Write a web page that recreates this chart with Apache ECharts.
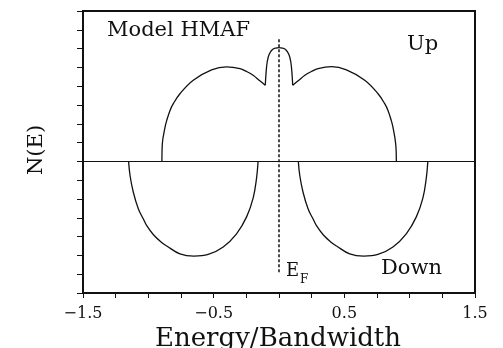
<!DOCTYPE html>
<html>
<head>
<meta charset="utf-8">
<script src="https://cdn.jsdelivr.net/npm/echarts@6/dist/echarts.min.js"></script>
<style>
    html, body { margin: 0; padding: 0; background: #fff; }
    #chart { width: 503px; height: 348px; }
</style>
</head>
<body>
<div id="chart"></div>
<script>
// N(E) curves, [energy, N]
var upLeft = [
    [-0.896, 0], [-0.893, 0.93], [-0.872, 1.82], [-0.859, 2.18], [-0.834, 2.71],
    [-0.809, 3.07], [-0.758, 3.60], [-0.656, 4.32], [-0.516, 4.87],
    [-0.401, 5.03], [-0.299, 4.94], [-0.248, 4.78], [-0.198, 4.58], [-0.152, 4.32], [-0.105, 4.05]
];
var upSpike = [
    [-0.105, 4.05], [-0.098, 4.8], [-0.090, 5.3], [-0.075, 5.7], [-0.050, 5.95],
    [-0.025, 6.03], [0, 6.05], [0.025, 6.03], [0.050, 5.95], [0.075, 5.7],
    [0.090, 5.3], [0.098, 4.8], [0.105, 4.05]
];
var upRight = [
    [0.105, 4.05], [0.152, 4.32], [0.198, 4.58], [0.248, 4.78], [0.299, 4.94],
    [0.401, 5.04], [0.516, 4.87], [0.656, 4.32], [0.758, 3.60],
    [0.809, 3.07], [0.834, 2.71], [0.859, 2.18], [0.872, 1.82], [0.893, 0.93], [0.898, 0]
];
var downLeft = [
    [-1.151, 0], [-1.140, -0.75], [-1.115, -1.64], [-1.076, -2.53], [-1.037, -3.08],
    [-1.012, -3.42], [-0.961, -3.90], [-0.898, -4.31], [-0.859, -4.50], [-0.758, -4.92],
    [-0.651, -5.04], [-0.542, -4.95], [-0.427, -4.55], [-0.325, -3.85], [-0.248, -2.95],
    [-0.198, -1.95], [-0.172, -0.90], [-0.160, 0]
];
var downRight = [
    [0.148, 0], [0.159, -0.75], [0.184, -1.64], [0.223, -2.53], [0.262, -3.08],
    [0.287, -3.42], [0.338, -3.90], [0.401, -4.31], [0.440, -4.50], [0.541, -4.92],
    [0.648, -5.04], [0.757, -4.95], [0.872, -4.55], [0.974, -3.85], [1.051, -2.95],
    [1.101, -1.95], [1.127, -0.90], [1.139, 0]
];
var fermiLine = [[0, 6.5], [0, -6.0]];
var xLabels = [-1.5, -0.5, 0.5, 1.5];

var serif = 'DejaVu Serif';
var ink = '#111';

function curve(data) {
    return {
        type: 'line',
        data: data,
        smooth: 0.4,
        showSymbol: false,
        silent: true,
        lineStyle: { color: ink, width: 1.3 }
    };
}

var chart = echarts.init(document.getElementById('chart'));

var series = [
    curve(upLeft), curve(upSpike), curve(upRight),
    curve(downLeft), curve(downRight),
    {
        type: 'line',
        data: fermiLine,
        showSymbol: false,
        silent: true,
        lineStyle: { color: ink, width: 1.5, type: [3, 2] }
    }
];
// zero line across the whole box
series[0].markLine = {
    silent: true,
    symbol: 'none',
    label: { show: false },
    lineStyle: { color: ink, width: 1.2, type: 'solid' },
    data: [{ yAxis: 0 }]
};

chart.setOption({
    animation: false,
    grid: {
        left: 83, right: 28, top: 11, bottom: 55,
        show: true, borderColor: ink, borderWidth: 2
    },
    xAxis: {
        type: 'value',
        min: -1.5, max: 1.5, interval: 0.25,
        splitLine: { show: false },
        axisLine: { onZero: false, lineStyle: { color: ink, width: 2 } },
        axisTick: { inside: false, length: 5, lineStyle: { color: ink, width: 1 } },
        axisLabel: {
            color: ink, fontFamily: serif, fontSize: 16, margin: 13,
            formatter: function(v) {
                for (var i = 0; i < xLabels.length; i++) {
                    if (Math.abs(v - xLabels[i]) < 1e-6) return String(v).replace('-', '\u2212');
                }
                return '';
            }
        }
    },
    yAxis: {
        type: 'value',
        min: -7, max: 8, interval: 1,
        splitLine: { show: false },
        axisLine: { onZero: false, lineStyle: { color: ink, width: 2 } },
        axisTick: { length: 6, lineStyle: { color: ink, width: 1 } },
        axisLabel: { show: false }
    },
    graphic: [
        { type: 'text', left: 107, top: 20, style: { text: 'Model HMAF', font: '21px "DejaVu Serif"', fill: ink } },
        { type: 'text', left: 407, top: 34, style: { text: 'Up', font: '21px "DejaVu Serif"', fill: ink } },
        { type: 'text', left: 381, top: 258, style: { text: 'Down', font: '21px "DejaVu Serif"', fill: ink } },
        { type: 'text', left: 286, top: 262, style: { text: 'E', font: '18px "DejaVu Serif"', fill: ink } },
        { type: 'text', left: 300, top: 274, style: { text: 'F', font: '12px "DejaVu Serif"', fill: ink } },
        { type: 'text', left: 155, top: 326, style: { text: 'Energy/Bandwidth', font: '26px "DejaVu Serif"', fill: ink } },
        { type: 'text', x: 26, y: 175, rotation: Math.PI / 2, style: { text: 'N(E)', font: '21px "DejaVu Serif"', fill: ink } }
    ],
    series: series
});
</script>
</body>
</html>
